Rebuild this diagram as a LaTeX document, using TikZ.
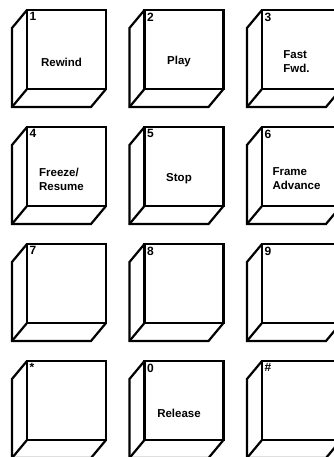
\documentclass[tikz,border=0pt]{standalone}
\usepackage{fontspec}
\setmainfont{Liberation Sans}
\tikzset{key face/.style={draw=black, line width=2.2pt, minimum width=79pt, minimum height=79pt, inner sep=0pt, outer sep=0pt}}
\tikzset{key side/.style={draw=black, line width=2.2pt, line join=miter}}
\tikzset{key num/.style={font=\fontsize{12}{13}\selectfont\bfseries, inner sep=0pt, anchor=north west}}
\tikzset{key text/.style={font=\fontsize{11.5}{14}\selectfont\bfseries, align=left, inner sep=0pt}}

\begin{document}
\begin{tikzpicture}[x=1pt,y=-1pt]
	\useasboundingbox (0,0) rectangle (334,457);
	\clip (0,0) rectangle (334,457);
	% keypad, 3 columns by 4 rows
	\foreach \i/\c/\r/\num/\txt in {1/0/0/1/Rewind, 2/1/0/2/Play, 3/2/0/3/{Fast\\Fwd.},
		4/0/1/4/{Freeze/\\Resume}, 5/1/1/5/Stop, 6/2/1/6/{Frame\\Advance},
		7/0/2/7/{}, 8/1/2/8/{}, 9/2/2/9/{},
		10/0/3/*/{}, 11/1/3/0/Release, 12/2/3/\#/{}}{
		\node[key face] (k\i) at (66.5+117.5*\c, 49.5+117*\r) {};
		\draw[key side] (k\i.north west) -- ++(-15,18) -- ++(0,79) -- ++(79,0) -- (k\i.south east);
		\draw[key side] (k\i.south west) -- ++(-15,18);
		\node[key num] (n\i) at ([shift={(2.5,2.5)}]k\i.north west) {\num};
		\node[key text] (t\i) at ([shift={(-5,12.5)}]k\i.center) {\txt};
	}
\end{tikzpicture}
\end{document}
